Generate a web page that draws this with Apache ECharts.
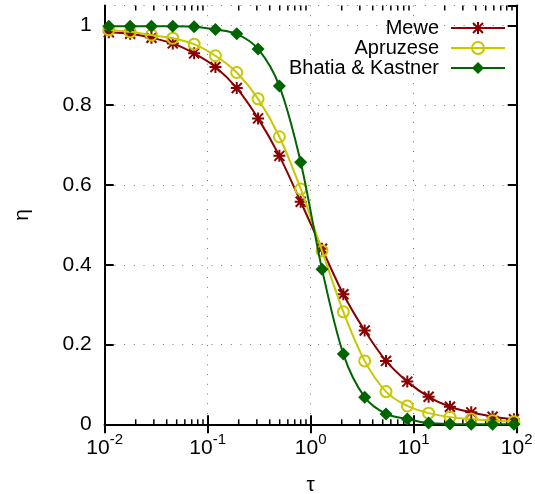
<!DOCTYPE html>
<html>
<head>
<meta charset="utf-8">
<script src="https://cdn.jsdelivr.net/npm/echarts@6/dist/echarts.min.js"></script>
<style>
html,body{margin:0;padding:0;background:#fff;}
#chart{width:535px;height:494px;}
</style>
</head>
<body>
<div id="chart"></div>
<script>
// ---- data ----
const tau = [0.01096, 0.01766, 0.02844, 0.0458, 0.0738, 0.1189, 0.1914, 0.3083, 0.4966, 0.7998,
             1.288, 2.075, 3.342, 5.383, 8.670, 13.96, 22.49, 36.22, 58.34, 93.97];
const mewe = [0.983, 0.979, 0.969, 0.955, 0.930, 0.896, 0.843, 0.767, 0.673, 0.558,
              0.440, 0.326, 0.235, 0.159, 0.107, 0.069, 0.044, 0.030, 0.019, 0.0125];
const apruzese = [0.989, 0.984, 0.976, 0.968, 0.953, 0.924, 0.882, 0.816, 0.721, 0.590,
                  0.435, 0.282, 0.159, 0.082, 0.046, 0.028, 0.018, 0.013, 0.009, 0.0065];
const bhatia = [0.998, 0.998, 0.998, 0.998, 0.997, 0.990, 0.979, 0.941, 0.848, 0.657,
                0.389, 0.176, 0.068, 0.026, 0.013, 0.003, 0.001, 0, 0, 0];
// curve values at the plot edges (tau = 0.01 and tau = 100), no marker there
const tauEdges = [0.01, 100];
const meweEdges = [0.985, 0.0115];
const apruzeseEdges = [0.991, 0.006];
const bhatiaEdges = [0.999, 0];
const seriesNames = ['Mewe', 'Apruzese', 'Bhatia & Kastner'];
const yTicks = [0, 0.2, 0.4, 0.6, 0.8, 1];
const minorTickMultipliers = [2, 3, 4, 5, 6, 7, 8, 9];
const decades = [0.01, 0.1, 1, 10];

const colors = ['#8b0000', '#c8c800', '#006400'];
const asterisk = 'path://M0 10L24 10L24 14L0 14Z M10 0L14 0L14 24L10 24Z ' +
  'M0.59 3.41L3.41 0.59L23.41 20.59L20.59 23.41Z M20.59 0.59L23.41 3.41L3.41 23.41L0.59 20.59Z';

function buildData(vals, edges) {
  const d = [{value: [tauEdges[0], edges[0]], symbol: 'none'}];
  for (let i = 0; i < tau.length; i++) d.push([tau[i], vals[i]]);
  d.push({value: [tauEdges[1], edges[1]], symbol: 'none'});
  return d;
}

const minorTicks = [];
decades.forEach(d => minorTickMultipliers.forEach(m => minorTicks.push([d * m, 0])));

const FONT = 'Liberation Sans, Arial, Helvetica, sans-serif';
const YMAX = 1.05;
const dotted = {color: '#777', width: 1, type: [1, 8.7]};

const chart = echarts.init(document.getElementById('chart'), null, {renderer: 'canvas'});
chart.setOption({
  animation: false,
  backgroundColor: '#fff',
  textStyle: {fontFamily: FONT},
  grid: {left: 104.7, right: 18.3, top: 5.5, bottom: 69.7, containLabel: false, outerBoundsMode: 'none'},
  legend: {
    data: seriesNames,
    orient: 'vertical',
    align: 'right',
    right: 24,
    top: 13,
    padding: 5,
    itemWidth: 54,
    itemHeight: 15,
    itemGap: 0,
    selectedMode: false,
    textStyle: {fontFamily: FONT, fontSize: 20, color: '#000', lineHeight: 20, padding: [0, 7, 0, 0]}
  },
  xAxis: [{
    type: 'log', logBase: 10, min: 0.01, max: 100, position: 'bottom',
    name: 'τ', nameLocation: 'middle', nameGap: 50,
    nameTextStyle: {fontFamily: FONT, fontSize: 21, color: '#000'},
    axisLine: {show: true, lineStyle: {color: '#000', width: 2}},
    axisTick: {show: true, inside: true, length: 9, lineStyle: {color: '#000', width: 2}},
    splitLine: {show: true, lineStyle: dotted},
    axisLabel: {
      margin: 8,
      formatter: v => '{b|10}{s|' + Math.round(Math.log10(v)) + '}',
      rich: {
        b: {fontFamily: FONT, fontSize: 21, color: '#000', verticalAlign: 'bottom', lineHeight: 26},
        s: {fontFamily: FONT, fontSize: 15, color: '#000', verticalAlign: 'top', lineHeight: 15}
      }
    }
  }, {
    type: 'log', logBase: 10, min: 0.01, max: 100, position: 'top',
    axisLine: {show: true, lineStyle: {color: '#000', width: 2}},
    axisTick: {show: true, inside: true, length: 9, lineStyle: {color: '#000', width: 2}},
    axisLabel: {show: false},
    splitLine: {show: false}
  }],
  yAxis: [{
    type: 'value', min: 0, max: YMAX, interval: 0.2, position: 'left',
    name: 'η', nameLocation: 'middle', nameGap: 72,
    nameTextStyle: {fontFamily: FONT, fontSize: 21, color: '#000'},
    axisLine: {show: true, lineStyle: {color: '#000', width: 2}},
    axisTick: {show: true, inside: true, length: 9, lineStyle: {color: '#000', width: 2}},
    splitLine: {show: true, lineStyle: dotted},
    axisLabel: {
      margin: 13, fontFamily: FONT, fontSize: 21, color: '#000', showMaxLabel: false,
      formatter: v => yTicks.some(t => Math.abs(t - v) < 1e-6) ? String(Math.round(v * 10) / 10) : ''
    }
  }, {
    type: 'value', min: 0, max: YMAX, interval: 0.2, position: 'right',
    axisLine: {show: true, lineStyle: {color: '#000', width: 2}},
    axisTick: {show: true, inside: true, length: 9, lineStyle: {color: '#000', width: 2}},
    axisLabel: {show: false},
    splitLine: {show: false}
  }],
  series: [
    {
      name: 'Mewe', type: 'line', xAxisIndex: 0, yAxisIndex: 0,
      data: buildData(mewe, meweEdges), smooth: 0.3,
      symbol: asterisk, symbolSize: 12, showAllSymbol: true,
      lineStyle: {color: colors[0], width: 2},
      itemStyle: {color: colors[0]}, z: 3
    },
    {
      name: 'Apruzese', type: 'line', xAxisIndex: 0, yAxisIndex: 0,
      data: buildData(apruzese, apruzeseEdges), smooth: 0.3,
      symbol: 'circle', symbolSize: 11, showAllSymbol: true,
      lineStyle: {color: colors[1], width: 2},
      itemStyle: {color: 'rgba(255,255,255,0)', borderColor: colors[1], borderWidth: 2}, z: 4
    },
    {
      name: 'Bhatia & Kastner', type: 'line', xAxisIndex: 0, yAxisIndex: 0,
      data: buildData(bhatia, bhatiaEdges), smooth: 0.3,
      symbol: 'diamond', symbolSize: 13, showAllSymbol: true,
      lineStyle: {color: colors[2], width: 2},
      itemStyle: {color: colors[2]}, z: 5
    },
    {
      name: 'minorTicks', type: 'custom', xAxisIndex: 0, yAxisIndex: 0,
      data: minorTicks, silent: true, z: 1,
      renderItem: (params, api) => {
        const v = api.value(0);
        const pb = api.coord([v, 0]);
        const pt = api.coord([v, YMAX]);
        return {
          type: 'group',
          children: [
            {type: 'line', shape: {x1: pb[0], y1: pb[1], x2: pb[0], y2: pb[1] - 5}, style: {stroke: '#000', lineWidth: 1.5}},
            {type: 'line', shape: {x1: pt[0], y1: pt[1], x2: pt[0], y2: pt[1] + 5}, style: {stroke: '#000', lineWidth: 1.5}}
          ]
        };
      }
    }
  ]
});
</script>
</body>
</html>
